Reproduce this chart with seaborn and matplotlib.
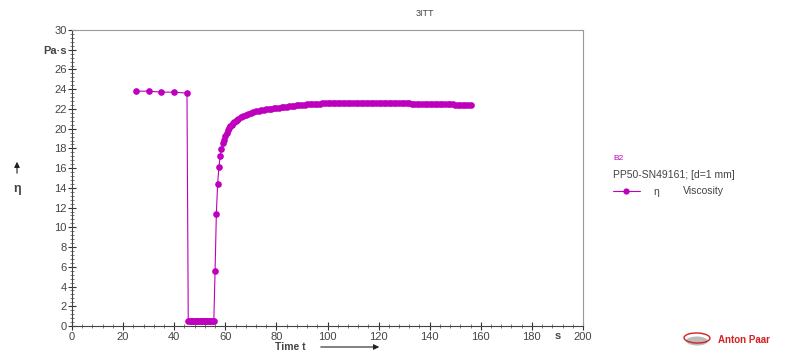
import numpy as np
import pandas as pd
import matplotlib
matplotlib.use("Agg")
import matplotlib.pyplot as plt
from matplotlib.patches import Ellipse, FancyArrowPatch
from matplotlib.lines import Line2D
import seaborn as sns

# interval 1: rest
t_rest = [25, 30, 35, 40, 45]
eta_rest = [23.8, 23.8, 23.7, 23.7, 23.6]

# interval 2: high shear
t_shear = [45.5, 46, 46.5, 47, 47.5, 48, 48.5, 49, 49.5, 50, 50.5, 51,
           51.5, 52, 52.5, 53, 53.5, 54, 54.5, 55, 55.5]
eta_shear = [0.55, 0.55, 0.5, 0.5, 0.5, 0.5, 0.5, 0.5, 0.5, 0.48, 0.48, 0.48,
             0.48, 0.48, 0.47, 0.47, 0.47, 0.47, 0.46, 0.46, 0.46]

# interval 3: recovery
t_rec = [56, 56.5, 57, 57.5, 58, 58.5, 59, 59.5, 60, 60.5, 61, 61.5, 62, 62.5,
         63, 63.5, 64, 64.5, 65, 66, 67, 68, 69, 70, 71, 72, 73, 74, 75, 76, 77,
         78, 79, 80, 81, 82, 83, 84, 85, 86, 87, 88, 89, 90, 91, 92, 93, 94, 95,
         96, 97, 98, 99, 100, 101, 102, 103, 104, 105, 106, 107, 108, 109, 110,
         111, 112, 113, 114, 115, 116, 117, 118, 119, 120, 121, 122, 123, 124,
         125, 126, 127, 128, 129, 130, 131, 132, 133, 134, 135, 136, 137, 138,
         139, 140, 141, 142, 143, 144, 145, 146, 147, 148, 149, 150, 151, 152,
         153, 154, 155, 156]
eta_rec = [5.6, 11.4, 14.4, 16.1, 17.2, 17.9, 18.5, 18.9, 19.3, 19.6, 19.85,
           20.05, 20.25, 20.4, 20.55, 20.7, 20.8, 20.9, 21.0, 21.15, 21.3, 21.4,
           21.5, 21.6, 21.68, 21.75, 21.8, 21.85, 21.9, 21.95, 22.0, 22.03,
           22.06, 22.1, 22.13, 22.16, 22.2, 22.23, 22.26, 22.3, 22.33, 22.36,
           22.39, 22.42, 22.44, 22.46, 22.48, 22.5, 22.52, 22.54, 22.55, 22.56,
           22.57, 22.58, 22.59, 22.6, 22.6, 22.61, 22.6, 22.6, 22.61, 22.62,
           22.61, 22.6, 22.61, 22.62, 22.62, 22.61, 22.6, 22.6, 22.61,
           22.6, 22.59, 22.6, 22.6, 22.59, 22.6, 22.6, 22.59, 22.58, 22.58,
           22.58, 22.57, 22.57, 22.56, 22.56, 22.55, 22.55, 22.54, 22.54, 22.53,
           22.52, 22.52, 22.51, 22.5, 22.5, 22.49, 22.48, 22.48, 22.47, 22.46,
           22.46, 22.45, 22.44, 22.43, 22.42, 22.41, 22.4, 22.38, 22.36]

df = pd.DataFrame({
    "t": t_rest + t_shear + t_rec,
    "eta": eta_rest + eta_shear + eta_rec,
})

col = "#BE00BE"
txt = "#444444"
sns.set_style("white")
plt.rcParams["font.family"] = ["Liberation Sans", "DejaVu Sans"]

fig = plt.figure(figsize=(7.95, 3.5), dpi=100)
ax = fig.add_axes([72 / 795, 1 - 326 / 350, 511 / 795, 296 / 350])

sns.lineplot(data=df, x="t", y="eta", sort=False, ax=ax, color=col,
             linewidth=0.8, marker="o", markersize=4.8, markeredgewidth=0,
             markerfacecolor=col)

ax.set_xlim(0, 200)
ax.set_ylim(0, 30)
ax.set_xticks(np.arange(0, 201, 20))
ax.set_yticks(np.arange(0, 31, 2))
ax.set_xticks(np.arange(0, 201, 4), minor=True)
ax.set_yticks(np.arange(0, 30.1, 0.4), minor=True)
ylabels = [str(v) for v in range(0, 31, 2)]
ylabels[14] = "Pa·s"
ax.set_yticklabels(ylabels)
for lab in ax.get_yticklabels():
    if lab.get_text() == "Pa·s":
        lab.set_fontweight("bold")
ax.tick_params(axis="both", which="both", bottom=True, left=True,
               top=False, right=False, direction="inout")
ax.tick_params(axis="both", which="major", length=6, width=0.8,
               labelsize=8, color="#333333", labelcolor=txt, pad=1)
ax.tick_params(axis="both", which="minor", length=2.5, width=0.6,
               color="#666666")
ax.set_xlabel("")
ax.set_ylabel("")
for s in ["top", "right"]:
    ax.spines[s].set_color("#999999")
    ax.spines[s].set_linewidth(0.8)
for s in ["left", "bottom"]:
    ax.spines[s].set_color("#444444")
    ax.spines[s].set_linewidth(0.8)

# unit on x axis
ax.text(190, -0.018, "s", transform=ax.get_xaxis_transform(), ha="center",
        va="top", fontsize=8, fontweight="bold", color=txt)

# axis labels with arrows
fig.text(290 / 795, 1 - 346.5 / 350, "Time t", ha="center", va="center",
         fontsize=7.5, fontweight="bold", color=txt)
fig.patches.append(FancyArrowPatch(
    (318 / 795, 1 - 347 / 350), (382 / 795, 1 - 347 / 350),
    transform=fig.transFigure, arrowstyle="-|>", mutation_scale=8,
    linewidth=0.8, color="#222222"))
fig.text(17 / 795, 1 - 189 / 350, "η", ha="center", va="center",
         fontsize=9, fontweight="bold", color=txt)
fig.patches.append(FancyArrowPatch(
    (17 / 795, 1 - 176 / 350), (17 / 795, 1 - 159 / 350),
    transform=fig.transFigure, arrowstyle="-|>", mutation_scale=8,
    linewidth=0.8, color="#222222"))

# title
fig.text(425 / 795, 1 - 14 / 350, "3ITT", ha="center", va="center",
         fontsize=6.5, color=txt)

# legend block
fig.text(613 / 795, 1 - 158 / 350, "B2", ha="left", va="center",
         fontsize=6, color=col)
fig.text(613 / 795, 1 - 175 / 350, "PP50-SN49161; [d=1 mm]", ha="left",
         va="center", fontsize=7.5, color=txt)
fig.lines.append(Line2D(
    [613 / 795, 640 / 795], [1 - 191 / 350, 1 - 191 / 350],
    transform=fig.transFigure, color=col, linewidth=0.8))
fig.lines.append(Line2D(
    [626 / 795], [1 - 191 / 350], transform=fig.transFigure, color=col,
    marker="o", markersize=4.5, markeredgewidth=0))
fig.text(656 / 795, 1 - 192 / 350, "η", ha="center", va="center",
         fontsize=7.5, color=txt)
fig.text(683 / 795, 1 - 191 / 350, "Viscosity", ha="left", va="center",
         fontsize=7.5, color=txt)

# logo
fig.patches.append(Ellipse((697 / 795, 1 - 341 / 350), 22 / 795, 9 / 350,
                           angle=-10, transform=fig.transFigure,
                           facecolor="#BBBBBB", edgecolor="none"))
fig.patches.append(Ellipse((697 / 795, 1 - 338 / 350), 26 / 795, 10 / 350,
                           angle=-10, transform=fig.transFigure,
                           facecolor="none", edgecolor="#D42020", linewidth=1))
fig.text(718 / 795, 1 - 340 / 350, "Anton Paar", ha="left", va="center",
         fontsize=7, fontweight="bold", color="#D42020")

fig.savefig("out.png", dpi=100)
